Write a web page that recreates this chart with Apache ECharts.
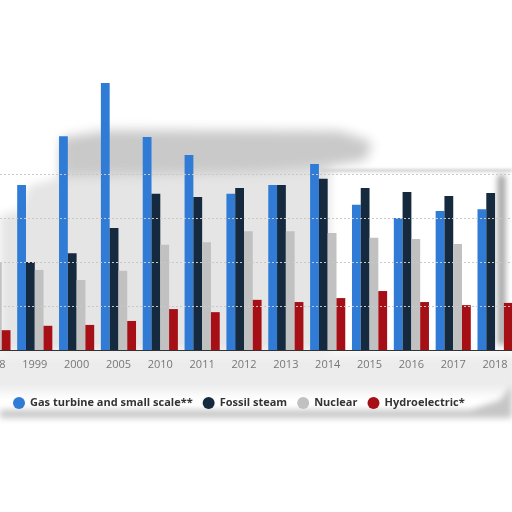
<!DOCTYPE html>
<html>
<head>
<meta charset="utf-8">
<script src="https://cdn.jsdelivr.net/npm/echarts@6/dist/echarts.min.js"></script>
<style>
  html, body { margin: 0; padding: 0; background: #fff; overflow: hidden; }
  /* chart is a bit wider than the window: 1998 is cut off on the left */
  #chart { position: absolute; left: -28px; top: 0; width: 544px; height: 512px; }
</style>
</head>
<body>
<div id="chart"></div>
<script>
// categories (years)
const years = ["1998", "1999", "2000", "2005", "2010", "2011", "2012", "2013", "2014", "2015", "2016", "2017", "2018"];
// values
const gasTurbine = [30, 37.5, 48.6, 60.7, 48.4, 44.3, 35.5, 37.5, 42.3, 33, 30, 31.6, 32];
const fossilSteam = [21, 20, 22, 27.7, 35.5, 34.8, 36.8, 37.5, 38.9, 36.8, 35.9, 35, 35.7];
const nuclear = [20, 18.2, 15.9, 18, 23.9, 24.5, 27, 27, 26.6, 25.5, 25.2, 24.1, null];
const hydro = [4.5, 5.5, 5.7, 6.6, 9.3, 8.6, 11.4, 10.9, 11.8, 13.4, 10.9, 10.2, 10.7];
const gridValues = [10, 20, 30, 40];

const seriesNames = ["Gas turbine and small scale**", "Fossil steam", "Nuclear", "Hydroelectric*"];
const colors = ["#2f7bd6", "#15293f", "#c1c1c1", "#a50f15"];

const myChart = echarts.init(document.getElementById("chart"));

// soft grey smudges behind the chart (shape drawn off screen, only its blurred shadow shows)
const OFF = 3000;
const blob = (pts, color, blur) => ({
  type: "polygon",
  silent: true,
  z: -10,
  x: OFF,
  shape: { points: pts.map((p) => [p[0] + 28, p[1]]) },
  style: {
    fill: color,
    shadowBlur: blur,
    shadowColor: color,
    shadowOffsetX: -OFF,
  },
});

const mkBar = (name, data, i) => ({
  name: name,
  type: "bar",
  data: data,
  barGap: "0%",
  barCategoryGap: "16%",
  itemStyle: { color: colors[i] },
  // dashed gridlines only up to 40
  markLine: i === 0 ? {
    silent: true,
    symbol: "none",
    label: { show: false },
    lineStyle: { color: "#c8c8c8", type: [2, 2], width: 1 },
    data: gridValues.map((v) => ({ yAxis: v })),
  } : undefined,
});

const options = {
  animation: false,
  color: colors,
  grid: {
    left: 0,
    right: 0,
    top: 42,
    bottom: 162,
  },
  graphic: [
    // light wash over lower left part of plot
    blob([[0, 215], [22, 210], [28, 186], [58, 178], [62, 140], [330, 165], [330, 352], [0, 352]], "#e5e5e5", 10),
    // darker band along the top
    blob([[62, 138], [110, 130], [340, 131], [372, 142], [366, 160], [320, 168], [250, 172], [62, 176]], "#c9c9c9", 12),
    // wash behind labels and legend
    blob([[-10, 354], [520, 354], [520, 392], [-10, 392]], "#ececec", 12),
    // shadow under legend strip
    blob([[0, 410], [470, 410], [500, 400], [512, 385], [512, 418], [0, 418]], "#c6c6c6", 6),
    // shadow at right side of the plot
    blob([[498, 175], [505, 175], [505, 345], [498, 345]], "#9a9a9a", 6),
    // edge at top of right white plate
    blob([[320, 169], [512, 169], [512, 172], [320, 172]], "#d2d2d2", 3),
  ],
  xAxis: {
    type: "category",
    data: years,
    axisLine: { lineStyle: { color: "#333", width: 1 } },
    axisTick: { show: false },
    axisLabel: {
      color: "#777",
      fontFamily: "Open Sans",
      fontSize: 11,
      margin: 9,
    },
  },
  yAxis: {
    type: "value",
    min: 0,
    max: 70,
    interval: 10,
    axisLabel: { show: false },
    axisLine: { show: false },
    axisTick: { show: false },
    splitLine: { show: false },
  },
  legend: {
    left: 36,
    top: 392,
    icon: "circle",
    itemWidth: 12,
    itemHeight: 12,
    itemGap: 10,
    textStyle: {
      color: "#333",
      fontFamily: "Open Sans",
      fontWeight: "bold",
      fontSize: 11,
    },
    data: seriesNames,
  },
  series: [
    mkBar(seriesNames[0], gasTurbine, 0),
    mkBar(seriesNames[1], fossilSteam, 1),
    mkBar(seriesNames[2], nuclear, 2),
    mkBar(seriesNames[3], hydro, 3),
  ],
};

myChart.setOption(options);
</script>
</body>
</html>
